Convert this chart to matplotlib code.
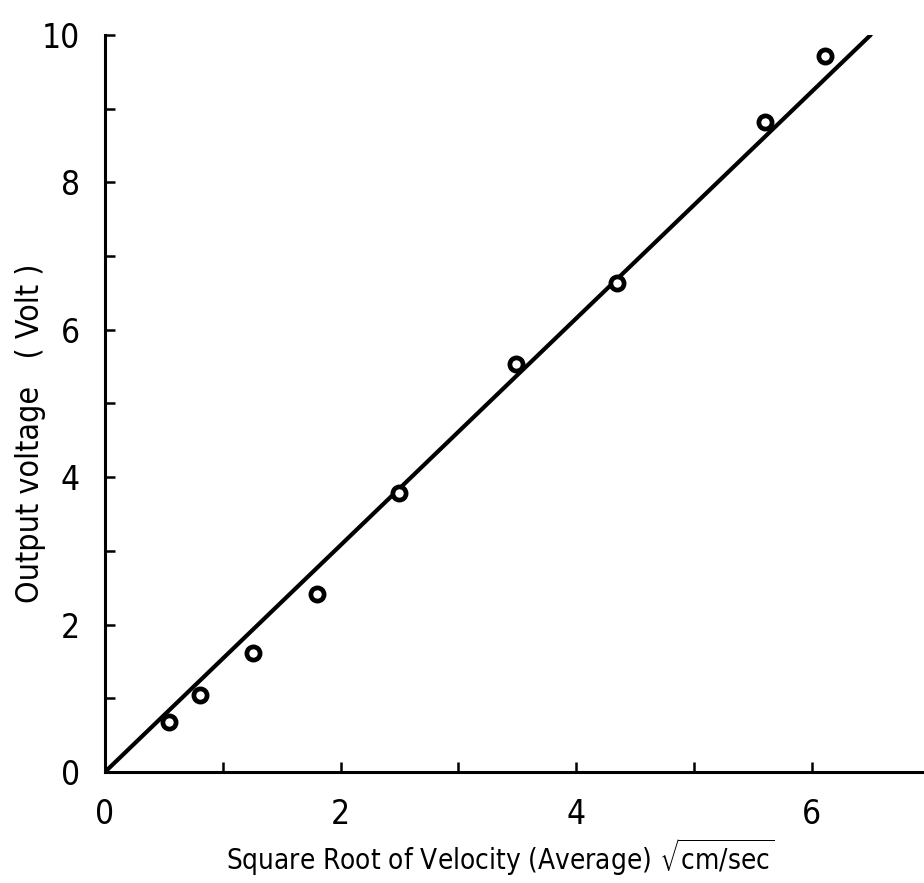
import matplotlib.pyplot as plt
import numpy as np

plt.rcParams['font.family'] = 'DejaVu Sans'
plt.rcParams['font.stretch'] = 'condensed'
plt.rcParams['mathtext.fontset'] = 'dejavusans'

# measured points: sqrt of average velocity vs output voltage
sqrt_vel = [0.54, 0.81, 1.26, 1.80, 2.50, 3.49, 4.35, 5.60, 6.11]
volts = [0.68, 1.05, 1.62, 2.41, 3.78, 5.54, 6.63, 8.82, 9.71]

# straight calibration line through the origin
fit_x = [0.0, 6.5]
fit_y = [0.0, 10.0]

x_ticks = [0, 1, 2, 3, 4, 5, 6, 7]
x_labels = ['0', '', '2', '', '4', '', '6', '']
y_ticks = [0, 1, 2, 3, 4, 5, 6, 7, 8, 9, 10]
y_labels = ['0', '', '2', '', '4', '', '6', '', '8', '', '10']

fig = plt.figure(figsize=(9.24, 8.83), dpi=100)
ax = fig.add_axes([0.1136, 0.1257, 0.8924, 0.8347])

ax.plot(fit_x, fit_y, color='black', linewidth=3, solid_capstyle='round')
ax.plot(sqrt_vel, volts, linestyle='none', marker='o', markersize=9.5,
        markerfacecolor='white', markeredgecolor='black', markeredgewidth=3.4)

ax.set_xlim(0, 7)
ax.set_ylim(0, 10)
ax.set_xticks(x_ticks)
ax.set_xticklabels(x_labels)
ax.set_yticks(y_ticks)
ax.set_yticklabels(y_labels)

for side in ['top', 'right']:
    ax.spines[side].set_visible(False)
for side in ['left', 'bottom']:
    ax.spines[side].set_linewidth(2.2)

ax.tick_params(direction='in', length=7, width=1.8, labelsize=24)
ax.tick_params(axis='x', pad=19)
ax.tick_params(axis='y', pad=18)
for lab in ax.get_xticklabels() + ax.get_yticklabels():
    lab.set_fontstretch('condensed')

ax.set_xlabel(r'Square Root of Velocity (Average) $\sqrt{\mathsf{cm/sec}}$',
              fontsize=20, fontstretch='condensed')
ax.xaxis.set_label_coords(0.479, -0.087)
ax.set_ylabel('Output voltage   ( Volt )', fontsize=23,
              fontstretch='condensed')
ax.yaxis.set_label_coords(-0.072, 0.46)

fig.savefig('out.png', dpi=100)
